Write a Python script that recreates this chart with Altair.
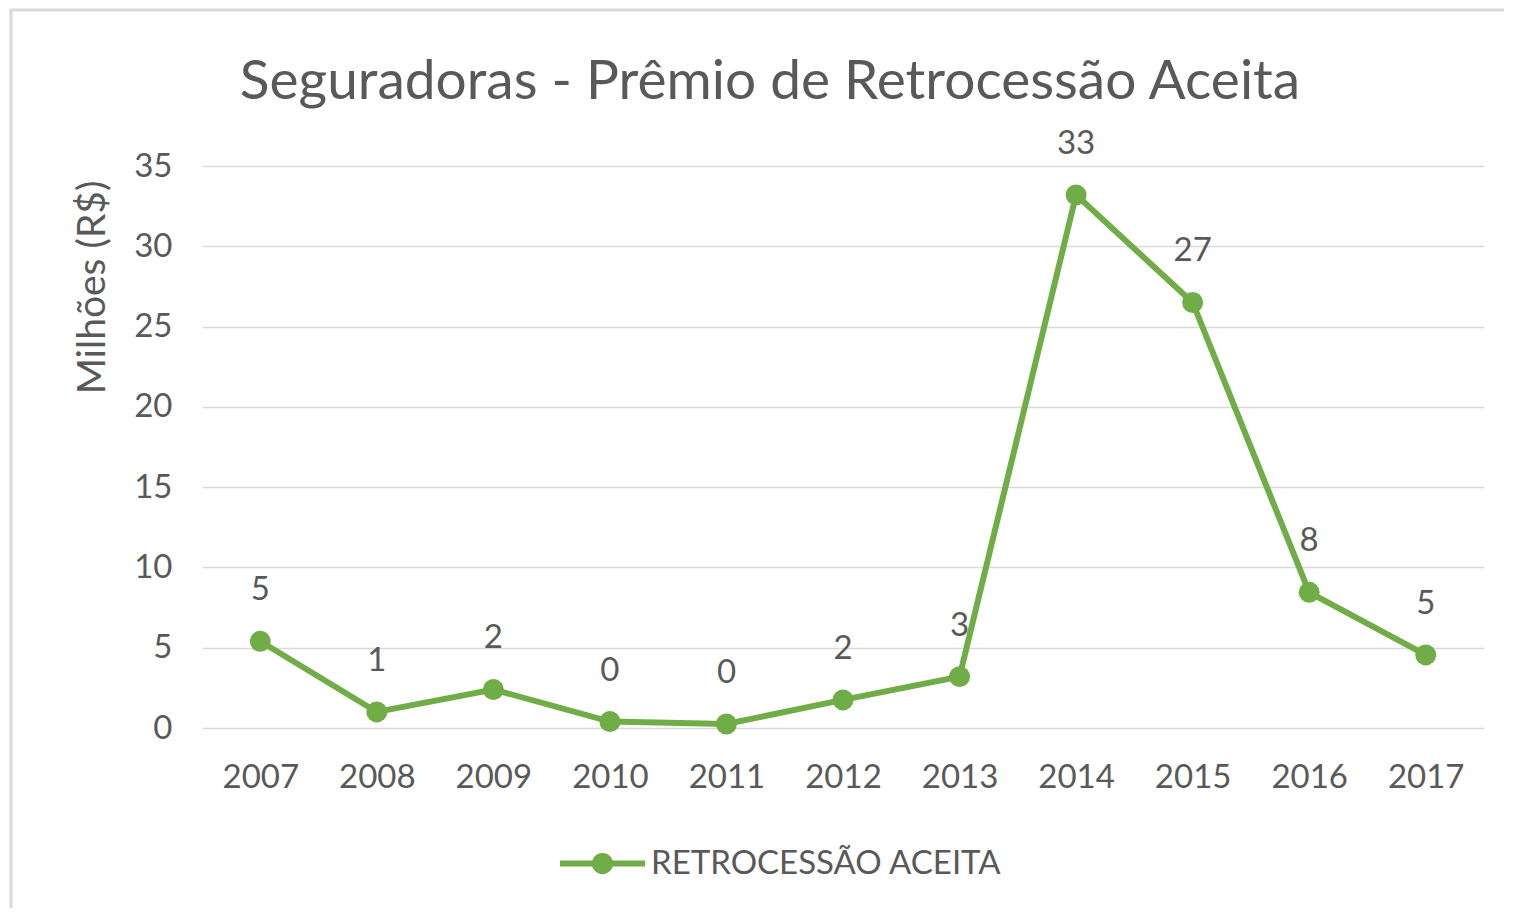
import altair as alt
import pandas as pd

years = ["2007", "2008", "2009", "2010", "2011", "2012", "2013", "2014", "2015", "2016", "2017"]
values = [5.4, 1.0, 2.4, 0.4, 0.25, 1.75, 3.2, 33.2, 26.5, 8.45, 4.55]
labels = ["5", "1", "2", "0", "0", "2", "3", "33", "27", "8", "5"]
series = "RETROCESSÃO ACEITA"
y_ticks = [0, 5, 10, 15, 20, 25, 30, 35]

GREEN = "#70AD47"
GREY = "#595959"
FONT = "Lato"

df = pd.DataFrame({"Ano": years, "Valor": values, "Rótulo": labels, "Série": [series] * len(years)})

x_enc = alt.X("Ano:O", title=None, sort=years,
              scale=alt.Scale(type="point", padding=0.5),
              axis=alt.Axis(labelAngle=0, ticks=False, domain=False, labelPadding=33,
                            labelFontSize=33, labelColor=GREY, labelFont=FONT))
y_enc = alt.Y("Valor:Q", title="Milhões (R$)",
              scale=alt.Scale(domain=[0, 35], nice=False),
              axis=alt.Axis(values=y_ticks, ticks=False, domain=False, labelPadding=30,
                            labelFontSize=33, labelColor=GREY, labelFont=FONT,
                            gridColor="#D9D9D9", gridWidth=1.5,
                            titleFontSize=39, titleColor=GREY, titleFont=FONT,
                            titleFontWeight="normal", titleX=-110, titleY=121,
                            titleBaseline="middle"))

base = alt.Chart(df)

frame = alt.Chart(pd.DataFrame({"k": [0]})).mark_rect(
    fill="white", fillOpacity=0, stroke="#D9D9D9", strokeWidth=3
).encode(x=alt.value(-191), x2=alt.value(1400), y=alt.value(-156), y2=alt.value(900))

line = base.mark_line(color=GREEN, strokeWidth=6).encode(x=x_enc, y=y_enc)

legend_symbol = ("M-1,-0.07L1,-0.07L1,0.07L-1,0.07Z "
                 "M0,-0.25A0.25,0.25 0 1 1 0,0.25A0.25,0.25 0 1 1 0,-0.25Z")

points = base.mark_circle(size=440, opacity=1).encode(
    x=x_enc, y=y_enc,
    color=alt.Color("Série:N", scale=alt.Scale(domain=[series], range=[GREEN]),
                    legend=alt.Legend(title=None, orient="none", legendX=358, legendY=655,
                                      symbolType=legend_symbol, symbolSize=7225,
                                      symbolStrokeWidth=0, symbolOpacity=1,
                                      labelFontSize=33, labelColor=GREY, labelFont=FONT,
                                      labelOffset=6, labelLimit=1000, padding=0))
)

text = base.mark_text(dy=-51, fontSize=33, color=GREY, font=FONT).encode(
    x=x_enc, y=y_enc, text="Rótulo:N"
)

chart = alt.layer(frame, line, points, text).properties(
    width=1282, height=562,
    title=alt.Title("Seguradoras - Prêmio de Retrocessão Aceita", fontSize=55, font=FONT,
                    fontWeight="normal", color=GREY, anchor="middle", frame="group",
                    baseline="alphabetic", offset=0, dy=145, dx=-73),
    autosize=alt.AutoSizeParams(type="none"),
    padding={"left": 194, "top": 158, "right": 20, "bottom": 180},
    background="white",
).configure_view(stroke=None)

chart.save("out.html", embed_options={"renderer": "svg", "actions": False})
